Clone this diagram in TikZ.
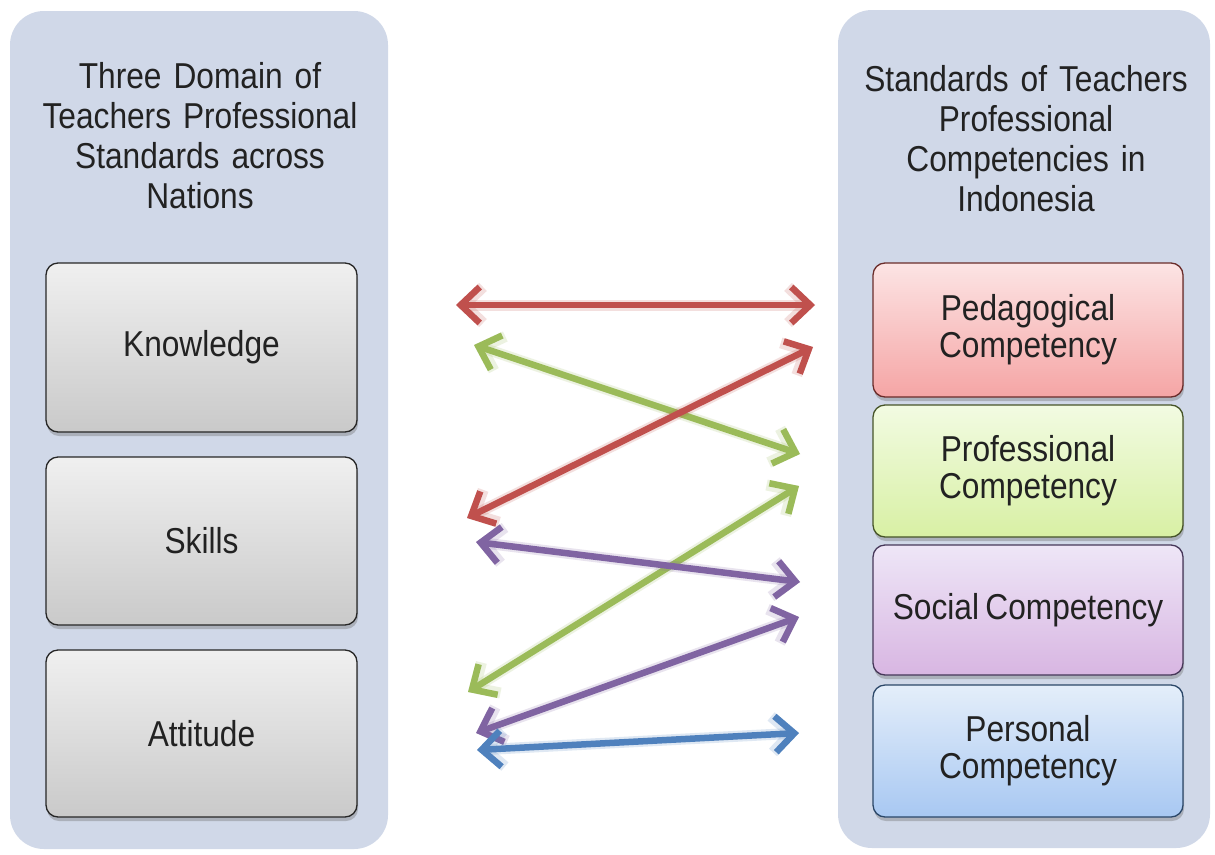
\documentclass[tikz,border=0pt]{standalone}
\usepackage{fontspec}
\setmainfont[FakeStretch=0.88, WordSpace=0.72]{Liberation Sans}
\usetikzlibrary{arrows.meta,shadows}

\definecolor{panelfill}{RGB}{208,216,232}
\definecolor{txt}{RGB}{34,34,34}
\definecolor{arrred}{RGB}{192,80,77}
\definecolor{arrgreen}{RGB}{155,187,89}
\definecolor{arrpurple}{RGB}{128,100,162}
\definecolor{arrblue}{RGB}{79,129,189}

\tikzset{
  panel/.style={draw=none, fill=panelfill, rounded corners=34pt,
    minimum width=#1, minimum height=838pt, inner sep=0pt},
  title/.style={font=\fontsize{36}{40}\selectfont, text=txt, align=center,
    inner sep=0pt, anchor=north},
  itembox/.style={draw=black!85, line width=1.3pt, rounded corners=12pt,
    minimum width=311pt, inner sep=0pt, text=txt,
    font=\fontsize{36}{37}\selectfont, align=center,
    drop shadow={shadow xshift=1pt, shadow yshift=-4pt, opacity=0.35, fill=black!60}},
  greybox/.style={itembox, top color=white!94!black, bottom color=black!21},
  pedbox/.style={itembox, draw=arrred!55!black, top color={rgb,255:red,252;green,228;blue,228},
    bottom color={rgb,255:red,245;green,165;blue,165}},
  profbox/.style={itembox, draw=arrgreen!45!black, top color={rgb,255:red,242;green,251;blue,226},
    bottom color={rgb,255:red,216;green,240;blue,164}},
  socbox/.style={itembox, draw=arrpurple!55!black, top color={rgb,255:red,238;green,230;blue,247},
    bottom color={rgb,255:red,216;green,182;blue,226}},
  persbox/.style={itembox, draw=arrblue!55!black, top color={rgb,255:red,228;green,238;blue,250},
    bottom color={rgb,255:red,168;green,200;blue,242}},
  link/.style={line width=6.5pt, #1,
    arrows={Straight Barb[length=19pt,width=36pt]-Straight Barb[length=19pt,width=36pt]},
    preaction={draw=#1, opacity=0.18, line width=11pt}}
}

\begin{document}
\begin{tikzpicture}[x=1pt,y=-1pt]
  \useasboundingbox[fill=white] (0,0) rectangle (1215,854);

  % the two background panels
  \node[panel=378pt] (leftpanel) at (199,430) {};
  \node[panel=372pt] (rightpanel) at (1024,429) {};

  % panel headings
  \node[title, text width=350pt] (lefttitle) at (200,62)
    {Three Domain of\\Teachers Professional\\Standards across\\Nations};
  \node[title, text width=350pt] (righttitle) at (1026,65)
    {Standards of Teachers\\Professional\\Competencies in\\Indonesia};

  % three domains
  \node[greybox, minimum height=169pt] (know) at (201.5,347.5) {Knowledge};
  \node[greybox, minimum height=168pt] (skill) at (201.5,541) {Skills};
  \node[greybox, minimum height=167pt] (att) at (201.5,733.5) {Attitude};

  % four competencies
  \node[pedbox, minimum width=310pt, minimum height=134pt] (ped) at (1028,330) {Pedagogical\\Competency};
  \node[profbox, minimum width=310pt, minimum height=132pt] (prof) at (1028,471) {Professional\\Competency};
  \node[socbox, minimum width=310pt, minimum height=130pt] (soc) at (1028,610) {Social Competency};
  \node[persbox, minimum width=310pt, minimum height=132pt] (pers) at (1028,751) {Personal\\Competency};

  % arrow end points between the columns
  \coordinate (kA) at (456,305);  \coordinate (pA) at (815,305);
  \coordinate (kB) at (474,345);  \coordinate (prA) at (800,454);
  \coordinate (sA) at (467,518);  \coordinate (pB) at (813,347);
  \coordinate (sB) at (476,542);  \coordinate (soA) at (800,582);
  \coordinate (aA) at (468,692);  \coordinate (prB) at (799,486);
  \coordinate (aB) at (476,733);  \coordinate (soB) at (799,617);
  \coordinate (aC) at (477,750);  \coordinate (peA) at (799,733);

  % links between domains and competencies
  \draw[link=arrred] (kA) -- (pA);
  \draw[link=arrgreen] (kB) -- (prA);
  \draw[link=arrred] (sA) -- (pB);
  \draw[link=arrgreen] (aA) -- (prB);
  \draw[link=arrpurple] (sB) -- (soA);
  \draw[link=arrpurple] (aB) -- (soB);
  \draw[link=arrblue] (aC) -- (peA);
\end{tikzpicture}
\end{document}
